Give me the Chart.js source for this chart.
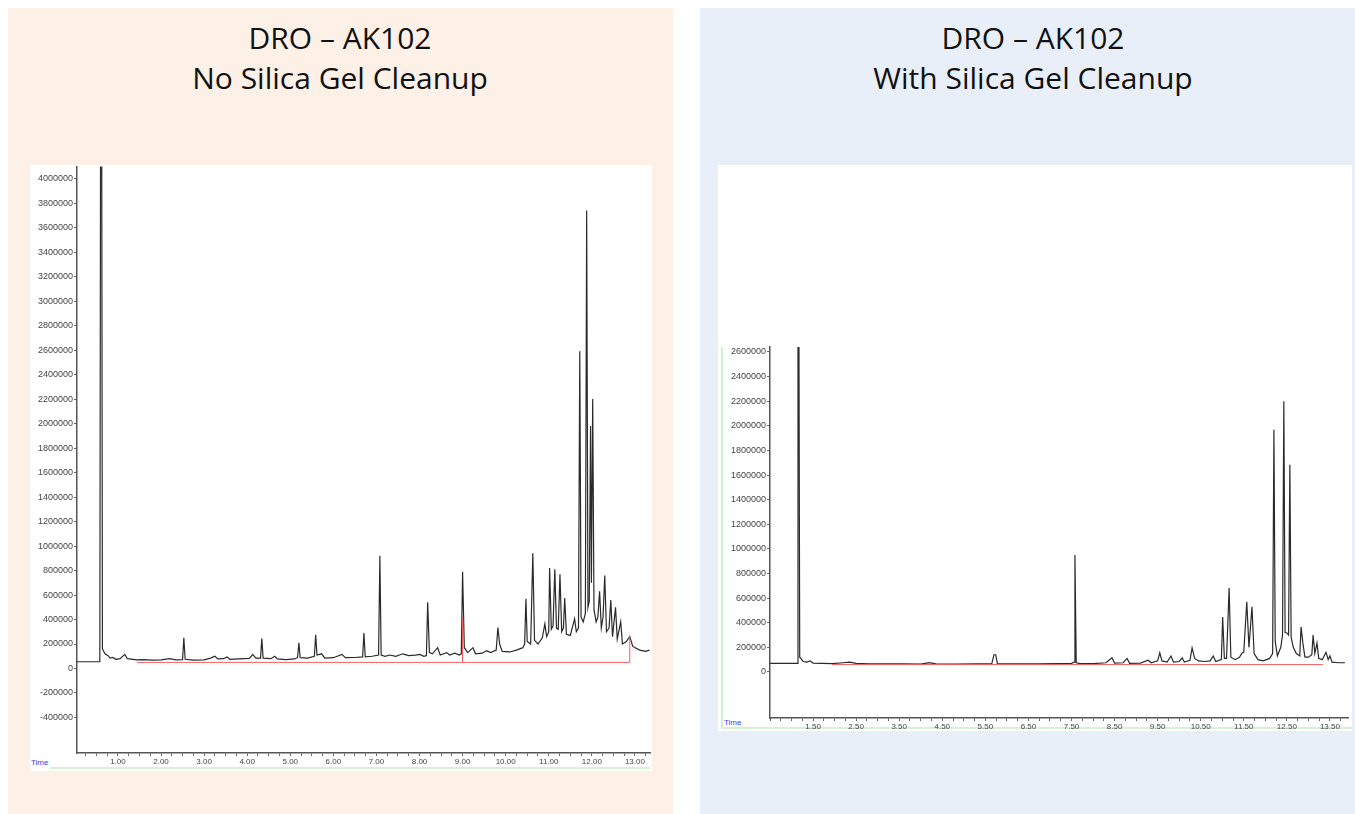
<!DOCTYPE html>
<html>
<head>
<meta charset="utf-8">
<script src="https://cdn.jsdelivr.net/npm/chart.js@4.4.1/dist/chart.umd.min.js"></script>
<style>
  body { margin: 0; width: 1355px; height: 814px; background: #fff; position: relative; overflow: hidden; }
  .abs { position: absolute; }
  .title { position: absolute; text-align: center; font-family: "Open Sans", Lato, sans-serif; font-size: 30px; line-height: 40px; color: #111; }
  .time { position: absolute; font-family: "Liberation Sans", Arial, sans-serif; font-size: 8px; color: #3b3bff; }
</style>
</head>
<body>
<div class="abs" style="left:8px;top:8px;width:665px;height:806px;background:#fdf0e7"></div>
<div class="abs" style="left:700px;top:8px;width:655px;height:806px;background:#e9eff9"></div>

<div class="title" style="left:40px;top:18px;width:600px">DRO – AK102<br>No Silica Gel Cleanup</div>
<div class="title" style="left:733px;top:18px;width:600px">DRO – AK102<br>With Silica Gel Cleanup</div>

<div class="abs" style="left:30px;top:165px;width:622px;height:606px;background:#fff"></div>
<div class="abs" style="left:718px;top:165px;width:634px;height:566px;background:#fff"></div>

<div class="abs" style="left:50px;top:767px;width:600px;height:2px;background:#d3f3d3"></div>
<div class="abs" style="left:721px;top:347px;width:2px;height:382px;background:#cdf1cd"></div>
<div class="abs" style="left:721px;top:727px;width:631px;height:2px;background:#d3f3d3"></div>

<div class="time" style="left:31px;top:758px">Time</div>
<div class="time" style="left:724px;top:718px">Time</div>

<canvas id="noClean" class="abs" width="622" height="612" style="left:30px;top:160px"></canvas>
<canvas id="withClean" class="abs" width="632" height="392" style="left:718px;top:340px"></canvas>

<script>
// ---- No silica gel cleanup (left) ----
const noCleanTime = [
  0.05, 0.58, 0.60, 0.62, 0.64, 0.70, 0.77, 0.82, 0.88, 0.95, 1.05, 1.16, 1.22, 1.35, 1.44,
  1.60, 1.80, 2.00, 2.20, 2.35, 2.50, 2.53, 2.56, 2.75, 3.00, 3.15, 3.25, 3.32, 3.45, 3.53,
  3.60, 3.80, 4.05, 4.13, 4.20, 4.31, 4.34, 4.37, 4.55, 4.64, 4.70, 4.90, 5.10, 5.17, 5.20,
  5.23, 5.40, 5.56, 5.59, 5.62, 5.73, 5.80, 6.00, 6.20, 6.28, 6.50, 6.68, 6.71, 6.74, 6.90,
  7.05, 7.08, 7.11, 7.20, 7.31, 7.45, 7.61, 7.75, 7.90, 8.01, 8.10, 8.16, 8.19, 8.23, 8.30,
  8.42, 8.48, 8.63, 8.70, 8.82, 8.92, 8.97, 9.00, 9.04, 9.12, 9.24, 9.30, 9.45, 9.56, 9.65,
  9.78, 9.82, 9.86, 9.92, 10.10, 10.25, 10.40, 10.44, 10.47, 10.50, 10.58, 10.63, 10.67, 10.75, 10.85,
  10.91, 10.95, 11.00, 11.02, 11.06, 11.10, 11.14, 11.18, 11.22, 11.26, 11.30, 11.34, 11.37, 11.41, 11.50,
  11.60, 11.64, 11.69, 11.72, 11.75, 11.80, 11.85, 11.88, 11.91, 11.94, 11.97, 11.99, 12.02, 12.05, 12.10,
  12.14, 12.18, 12.22, 12.26, 12.30, 12.34, 12.40, 12.44, 12.48, 12.55, 12.59, 12.67, 12.71, 12.80, 12.88,
  12.95, 13.11, 13.25, 13.34
];
const noCleanSignal = [
  55000, 55000, 5200000, 5200000, 160000, 120000, 105000, 85000, 90000, 75000, 80000, 115000, 80000, 75000, 70000,
  72000, 68000, 70000, 80000, 70000, 72000, 250000, 75000, 68000, 70000, 85000, 100000, 78000, 80000, 95000,
  75000, 78000, 82000, 115000, 85000, 85000, 245000, 85000, 80000, 100000, 78000, 72000, 78000, 90000, 210000,
  88000, 85000, 100000, 275000, 110000, 120000, 85000, 88000, 115000, 88000, 90000, 95000, 290000, 95000, 100000,
  110000, 920000, 110000, 100000, 110000, 100000, 120000, 105000, 110000, 115000, 100000, 105000, 540000, 130000, 120000,
  170000, 110000, 130000, 110000, 125000, 110000, 120000, 790000, 170000, 130000, 170000, 120000, 125000, 145000, 130000,
  150000, 335000, 200000, 140000, 135000, 150000, 170000, 200000, 570000, 220000, 200000, 940000, 230000, 200000, 250000,
  365000, 260000, 300000, 820000, 320000, 350000, 810000, 330000, 320000, 770000, 300000, 330000, 575000, 280000, 270000,
  405000, 300000, 330000, 2590000, 420000, 380000, 450000, 3740000, 500000, 550000, 1980000, 700000, 2200000, 480000, 380000,
  420000, 630000, 330000, 420000, 760000, 300000, 330000, 560000, 260000, 500000, 240000, 380000, 200000, 220000, 260000,
  180000, 150000, 140000, 150000
];
const noCleanBaseTime = [1.44, 9.00, 9.00, 9.00, 12.88, 12.88];
const noCleanBaseSignal = [50000, 50000, 420000, 50000, 50000, 270000];
const noCleanXLabels = [1, 2, 3, 4, 5, 6, 7, 8, 9, 10, 11, 12, 13];
const noCleanYLabels = [-400000, -200000, 0, 200000, 400000, 600000, 800000, 1000000, 1200000, 1400000,
  1600000, 1800000, 2000000, 2200000, 2400000, 2600000, 2800000, 3000000, 3200000, 3400000, 3600000, 3800000, 4000000];

// ---- With silica gel cleanup (right) ----
const withCleanTime = [
  0.50, 1.13, 1.15, 1.17, 1.19, 1.24, 1.27, 1.35, 1.43, 1.50, 1.70, 1.94, 2.20, 2.35, 2.50,
  2.80, 3.20, 3.60, 4.00, 4.20, 4.35, 4.80, 5.30, 5.65, 5.70, 5.74, 5.78, 6.20, 6.70, 7.20,
  7.50, 7.56, 7.58, 7.61, 7.70, 8.00, 8.30, 8.44, 8.50, 8.70, 8.79, 8.85, 9.10, 9.28, 9.35,
  9.50, 9.55, 9.60, 9.72, 9.81, 9.87, 10.00, 10.07, 10.12, 10.25, 10.30, 10.36, 10.45, 10.60, 10.72,
  10.79, 10.85, 10.98, 11.01, 11.05, 11.10, 11.16, 11.20, 11.30, 11.40, 11.46, 11.50, 11.57, 11.62, 11.69,
  11.74, 11.83, 11.95, 12.10, 12.17, 12.20, 12.23, 12.28, 12.36, 12.40, 12.43, 12.46, 12.50, 12.54, 12.57,
  12.60, 12.65, 12.72, 12.80, 12.83, 12.87, 12.92, 13.00, 13.08, 13.11, 13.15, 13.20, 13.24, 13.32, 13.41,
  13.46, 13.50, 13.55, 13.70, 13.85
];
const withCleanSignal = [
  70000, 70000, 3000000, 3000000, 120000, 100000, 85000, 80000, 90000, 72000, 70000, 68000, 75000, 80000, 70000,
  66000, 65000, 66000, 64000, 75000, 65000, 64000, 65000, 68000, 140000, 140000, 68000, 66000, 65000, 67000,
  70000, 80000, 950000, 75000, 68000, 67000, 75000, 115000, 72000, 75000, 110000, 70000, 72000, 95000, 75000,
  90000, 155000, 90000, 80000, 130000, 80000, 85000, 115000, 80000, 95000, 195000, 110000, 90000, 85000, 90000,
  130000, 85000, 100000, 447000, 110000, 110000, 683000, 120000, 100000, 120000, 155000, 160000, 570000, 200000, 530000,
  150000, 100000, 90000, 110000, 150000, 1967000, 250000, 130000, 200000, 300000, 2200000, 320000, 317000, 300000, 1683000,
  280000, 200000, 150000, 130000, 366000, 240000, 120000, 120000, 140000, 300000, 150000, 235000, 110000, 100000, 160000,
  100000, 130000, 80000, 75000, 75000
];
const withCleanBaseTime = [1.94, 13.34];
const withCleanBaseSignal = [60000, 60000];
const withCleanXLabels = [1.5, 2.5, 3.5, 4.5, 5.5, 6.5, 7.5, 8.5, 9.5, 10.5, 11.5, 12.5, 13.5];
const withCleanYLabels = [0, 200000, 400000, 600000, 800000, 1000000, 1200000, 1400000, 1600000,
  1800000, 2000000, 2200000, 2400000, 2600000];

function toPoints(xs, ys) {
  return xs.map((x, i) => ({ x: x, y: ys[i] }));
}

function makeChart(id, time, signal, baseTime, baseSignal, xLabels, yLabels, box) {
  const minorStart = xLabels[0] - Math.floor((xLabels[0] - box.xMin) / 0.25) * 0.25;
  return new Chart(document.getElementById(id), {
    type: "line",
    data: {
      datasets: [
        {
          data: toPoints(baseTime, baseSignal),
          borderColor: "#f06060",
          borderWidth: 1,
          pointRadius: 0,
          tension: 0,
        },
        {
          data: toPoints(time, signal),
          borderColor: "#2a2a2a",
          borderWidth: 1.2,
          pointRadius: 0,
          tension: 0,
        },
      ],
    },
    options: {
      responsive: false,
      animation: false,
      events: [],
      layout: { padding: { top: box.top, right: 2, left: 0, bottom: 0 } },
      plugins: { legend: { display: false }, tooltip: { enabled: false } },
      scales: {
        x: {
          type: "linear",
          min: box.xMin,
          max: box.xMax,
          afterFit: (s) => { s.height = box.xHeight; },
          afterBuildTicks: (s) => {
            const t = [];
            for (let v = minorStart; v < box.xMax; v += 0.25) t.push({ value: Math.round(v * 100) / 100 });
            s.ticks = t;
          },
          border: { color: "#555", width: 1.5 },
          grid: { drawOnChartArea: false, tickLength: 3, color: "#666" },
          ticks: {
            autoSkip: false,
            maxRotation: 0,
            padding: 1,
            color: "#444",
            font: { family: "Liberation Sans", size: 8 },
            callback: (v) => (xLabels.includes(v) ? v.toFixed(2) : ""),
          },
        },
        y: {
          min: box.yMin,
          max: box.yMax,
          afterFit: (s) => { s.width = box.yWidth; },
          afterBuildTicks: (s) => { s.ticks = yLabels.map((v) => ({ value: v })); },
          border: { color: "#555", width: 1.5 },
          grid: { drawOnChartArea: false, tickLength: 3, color: "#666" },
          ticks: {
            padding: 1,
            color: "#444",
            font: { family: "Liberation Sans", size: 9 },
            callback: (v) => String(v),
          },
        },
      },
    },
  });
}

makeChart("noClean", noCleanTime, noCleanSignal, noCleanBaseTime, noCleanBaseSignal, noCleanXLabels, noCleanYLabels,
  { top: 5, xMin: 0.05, xMax: 13.35, yMin: -690000, yMax: 4100000, xHeight: 19, yWidth: 47 });
makeChart("withClean", withCleanTime, withCleanSignal, withCleanBaseTime, withCleanBaseSignal, withCleanXLabels, withCleanYLabels,
  { top: 7, xMin: 0.5, xMax: 13.92, yMin: -374000, yMax: 2640000, xHeight: 14, yWidth: 52 });
</script>
</body>
</html>
